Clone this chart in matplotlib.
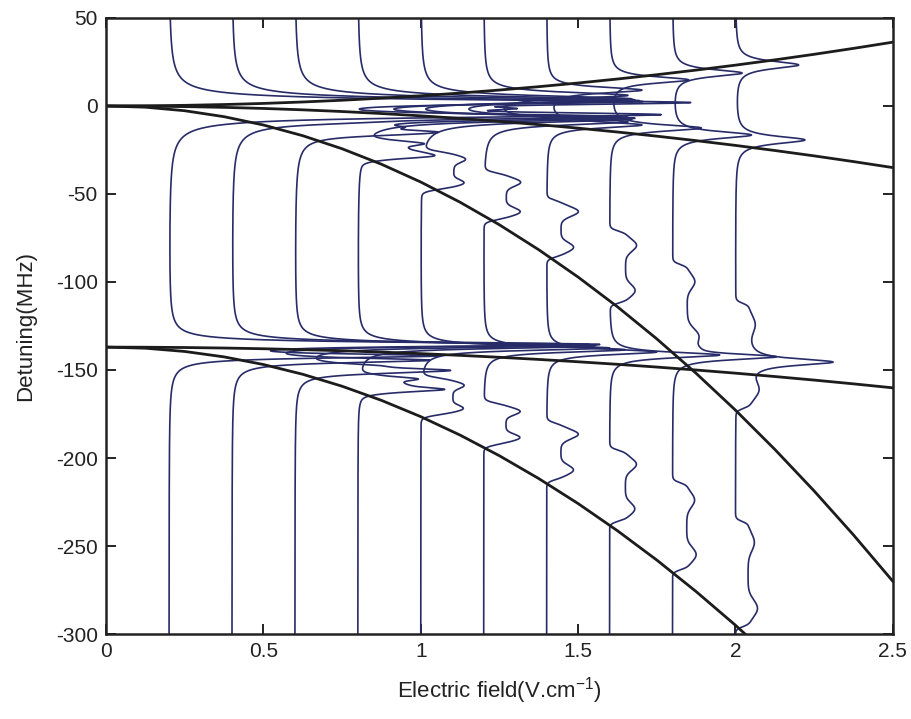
import numpy as np
import matplotlib
matplotlib.use("Agg")
import matplotlib.pyplot as plt

plt.rcParams["font.family"] = ["Liberation Sans", "DejaVu Sans"]
plt.rcParams["mathtext.default"] = "regular"
plt.rcParams["axes.unicode_minus"] = False

# electric field of each recorded spectrum (V/cm); each trace is drawn offset by its field
fields = [0.2, 0.4, 0.6, 0.8, 1.0, 1.2, 1.4, 1.6, 1.8, 2.0]

# peaks of the upper (0 MHz) group: centre (MHz), height (V/cm)
peak_a_center = [2.0, 2.5, 3.0, 3.5, 4.0, 6.0, 9.0, 14.8, 18.7, 23.3]
peak_a_height = [1.5, 1.25, 1.05, 0.85, 0.65, 0.45, 0.30, 0.25, 0.22, 0.20]
peak_b_center = [-5.0, -6.0, -6.5, -7.0, -7.5, -9.0, -10.8, -12.5, -16.5, -19.3]
peak_b_height = [1.4, 1.15, 1.0, 0.85, 0.65, 0.45, 0.30, 0.29, 0.25, 0.22]
peak_width = [1.8, 1.9, 2.0, 2.0, 2.1, 2.1, 2.0, 2.2, 2.4, 2.6]

# peaks of the lower (-137 MHz) group
peak_c_center = [-135.5, -135.5, -136.0, -136.5, -137.5, -138.5, -139.8, -141.5, -142.5, -145.5]
peak_c_height = [1.3, 1.15, 0.95, 0.75, 0.6, 0.45, 0.35, 0.35, 0.33, 0.27]
peak_c_width = [1.4, 1.45, 1.5, 1.55, 1.6, 1.7, 1.8, 1.9, 2.0, 2.2]

# extra peaks on the steep levels, only seen at low field
steep_up_center = [-1.5, -9.5, -15.5, -27.0, -45.0, -62.0, -85.0, -110.0, -139.0, -172.0]
steep_up_height = [0.5, 0.12, 0.28, 0.08, 0, 0, 0, 0, 0, 0]
steep_lo_center = [-142.0, -144.5, -150.5, -161.0, -176.0, -193.0, -213.0, -236.0, -264.0, -296.0]
steep_lo_height = [0.8, 0.6, 0.35, 0.1, 0, 0, 0, 0, 0, 0]
steep_width = [1.4, 1.6, 2.0, 2.0, 2.0, 2.0, 2.0, 2.0, 2.0, 2.0]

# shifted band above each steep line (from crossing up to its top), upper and lower copy
band_up_lo = [-1.7, -7.0, -16.0, -30.7, -47.5, -64.8, -86.0, -112.0, -139.0, -172.0]
band_up_hi = [-1.1, -4.6, -10.5, -19.0, -26.0, -38.0, -53.5, -71.0, -90.0, -112.0]
band_lo_lo = [-138.6, -143.3, -151.5, -163.0, -175.6, -192.6, -212.5, -236.0, -263.6, -296.0]
band_lo_hi = [-138.0, -141.0, -146.0, -153.0, -154.5, -168.8, -180.0, -195.5, -214.0, -236.0]
band_base = [0.0, 0.0, 0.12, 0.12, 0.10, 0.07, 0.045, 0.05, 0.045, 0.04]
horn_low = [0.0, 0.0, 0.05, 0.07, 0.035, 0.045, 0.04, 0.03, 0.03, 0.03]
horn_high = [0.0, 0.0, 0.05, 0.07, 0.035, 0.045, 0.055, 0.035, 0.025, 0.02]

# Stark-shifted levels (black lines)
stark_field = [0, 0.125, 0.25, 0.375, 0.5, 0.625, 0.75, 0.875, 1.0, 1.125, 1.25,
               1.375, 1.5, 1.625, 1.75, 1.875, 2.0, 2.125, 2.25, 2.375, 2.5]
level_up = [0, 0.09, 0.36, 0.82, 1.45, 2.27, 3.26, 4.44, 5.8, 7.34, 9.06,
            10.97, 13.05, 15.32, 17.76, 20.39, 23.2, 26.19, 29.36, 32.72, 36.25]
level_down = [0, -0.09, -0.35, -0.79, -1.4, -2.19, -3.15, -4.29, -5.6, -7.09, -8.75,
              -10.59, -12.6, -14.79, -17.15, -19.69, -22.4, -25.29, -28.35, -31.59, -35.0]
level_steep = [0, -0.68, -2.7, -6.08, -10.8, -16.88, -24.3, -33.08, -43.2, -54.68, -67.5,
               -81.68, -97.2, -114.08, -132.3, -151.88, -172.8, -195.08, -218.7, -243.68, -270.0]
level_low_mild = [-137, -137.06, -137.23, -137.52, -137.93, -138.45, -139.08, -139.83, -140.7,
                  -141.68, -142.78, -144.0, -145.33, -146.77, -148.33, -150.01, -151.8,
                  -153.71, -155.73, -157.87, -160.13]
level_low_steep = [-137, -137.62, -139.47, -142.55, -146.88, -152.43, -159.22, -167.24, -176.5,
                   -186.99, -198.72, -211.68, -225.88, -241.31, -257.97, -275.87, -295.0,
                   -315.37, -337.0, -360.0, -384.0]


def lorentz(y, c, h, w):
    return h * w**2 / ((y - c)**2 + w**2)


def band(y, lo, hi, base, h1, h2):
    s = 0.8
    box = 1.0 / (1 + np.exp(-(y - lo) / s)) / (1 + np.exp(-(hi - y) / s))
    g = max((hi - lo) * 0.08, 0.6)
    horns = (h1 * np.exp(-0.5 * ((y - lo - 2.2 * g) / g)**2)
             + h2 * np.exp(-0.5 * ((y - hi + 2.5 * g) / g)**2))
    return box * (base + horns)


det = np.linspace(-300, 50, 14001)

fig = plt.figure(figsize=(9.11, 7.19), dpi=100)
ax = fig.add_axes([0.1164, 0.1182, 0.8636, 0.8568])

trace_color = "#272c68"
for i, E in enumerate(fields):
    x = np.full_like(det, E)
    x += lorentz(det, peak_a_center[i], peak_a_height[i], peak_width[i])
    x += lorentz(det, peak_b_center[i], peak_b_height[i], peak_width[i])
    x += lorentz(det, peak_c_center[i], peak_c_height[i], peak_c_width[i])
    x += lorentz(det, steep_up_center[i], steep_up_height[i], steep_width[i])
    x += lorentz(det, steep_lo_center[i], steep_lo_height[i], steep_width[i])
    x += band(det, band_up_lo[i], band_up_hi[i], band_base[i], horn_low[i], horn_high[i])
    x += band(det, band_lo_lo[i], band_lo_hi[i], band_base[i], horn_low[i], horn_high[i])
    ax.plot(x, det, color=trace_color, lw=1.2)

for lev in [level_up, level_down, level_steep, level_low_mild, level_low_steep]:
    ax.plot(stark_field, lev, color="#1c1c1c", lw=2.0)

ax.set_xlim(0, 2.5)
ax.set_ylim(-300, 50)
ax.set_xticks([0, 0.5, 1, 1.5, 2, 2.5])
ax.set_xticklabels(["0", "0.5", "1", "1.5", "2", "2.5"])
ax.set_yticks(np.arange(-300, 51, 50))
ax.tick_params(direction="in", top=True, right=True, length=7, width=1.4,
               labelsize=15, pad=6, colors="#222222")
for sp in ax.spines.values():
    sp.set_linewidth(1.8)
    sp.set_color("#222222")

ax.set_xlabel("Electric field(V.cm$^{-1}$)", fontsize=16, labelpad=10, color="#222222")
ax.set_ylabel("Detuning(MHz)", fontsize=16, labelpad=14, color="#222222")

fig.savefig("out.png", dpi=100)
